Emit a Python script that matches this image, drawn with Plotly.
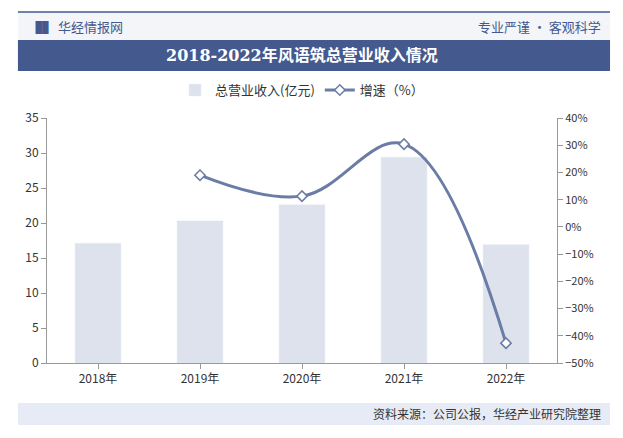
import plotly.graph_objects as go

years = ["2018年", "2019年", "2020年", "2021年", "2022年"]
revenue = [17.1, 20.3, 22.6, 29.4, 16.9]
growth_years = ["2019年", "2020年", "2021年", "2022年"]
growth = [19.0, 11.3, 30.4, -42.7]

fig = go.Figure()
fig.add_trace(go.Bar(
    x=years, y=revenue, name="总营业收入(亿元)",
    marker_color="#dde2ec", width=0.45,
))
fig.add_trace(go.Scatter(
    x=growth_years, y=growth, name="增速（%）", yaxis="y2",
    mode="lines+markers", line=dict(color="#6b7ca6", width=3, shape="spline", smoothing=1.1),
    marker=dict(symbol="diamond", size=8, color="white", line=dict(color="#6b7ca6", width=1.5)),
))

font = "Noto Sans CJK SC"
# page has an 8px body margin; plot area is x 47..557, y 118..363 in the window
fig.update_layout(
    width=615, height=430,
    paper_bgcolor="white", plot_bgcolor="white",
    font=dict(family=font, size=12, color="#333"),
    margin=dict(l=39, r=66, t=110, b=75),
    showlegend=True,
    legend=dict(orientation="h", x=0.5, xanchor="center", y=1.114, yanchor="middle",
                font=dict(size=13), bgcolor="rgba(0,0,0,0)"),
    xaxis=dict(showline=True, linecolor="#999", ticks="outside", tickcolor="#999",
               tickfont=dict(size=12)),
    yaxis=dict(range=[0, 35], dtick=5, showgrid=False, showline=True, linecolor="#999",
               ticks="outside", tickcolor="#999", tickfont=dict(size=12)),
    yaxis2=dict(range=[-50, 40], dtick=10, overlaying="y", side="right", showgrid=False,
                showline=True, linecolor="#999", ticks="outside", tickcolor="#999",
                ticksuffix="%", tickfont=dict(size=11), zeroline=False),
    shapes=[
        dict(type="rect", xref="paper", yref="paper", x0=-0.057, x1=1.104, y0=1.318, y1=1.433,
             fillcolor="#f3f5f9", line_width=0, layer="below"),
        dict(type="line", xref="paper", yref="paper", x0=-0.057, x1=1.104, y0=1.433, y1=1.433,
             line=dict(color="#44598e", width=1.5)),
        dict(type="rect", xref="paper", yref="paper", x0=-0.057, x1=1.104, y0=1.192, y1=1.318,
             fillcolor="#44598e", line_width=0),
        dict(type="rect", xref="paper", yref="paper", x0=-0.057, x1=1.104, y0=-0.253, y1=-0.163,
             fillcolor="#e6ebf5", line_width=0, layer="below"),
    ],
    annotations=[
        dict(text="<b>2018-2022年风语筑总营业收入情况</b>", xref="paper", yref="paper", x=0.5, y=1.255,
             yanchor="middle", showarrow=False,
             font=dict(family="DejaVu Serif, " + font, size=16, color="white")),
        dict(text="<b>▐▌</b> 华经情报网", xref="paper", yref="paper", x=-0.04, y=1.375, xanchor="left",
             yanchor="middle", showarrow=False, font=dict(size=13, color="#44598e")),
        dict(text="专业严谨 • 客观科学", xref="paper", yref="paper", x=1.09, y=1.375, xanchor="right",
             yanchor="middle", showarrow=False, font=dict(size=13, color="#44598e")),
        dict(text="资料来源：公司公报，华经产业研究院整理", xref="paper", yref="paper", x=1.09, y=-0.208,
             xanchor="right", yanchor="middle", showarrow=False, font=dict(size=12, color="#333")),
    ],
)
fig.write_html("out.html")
